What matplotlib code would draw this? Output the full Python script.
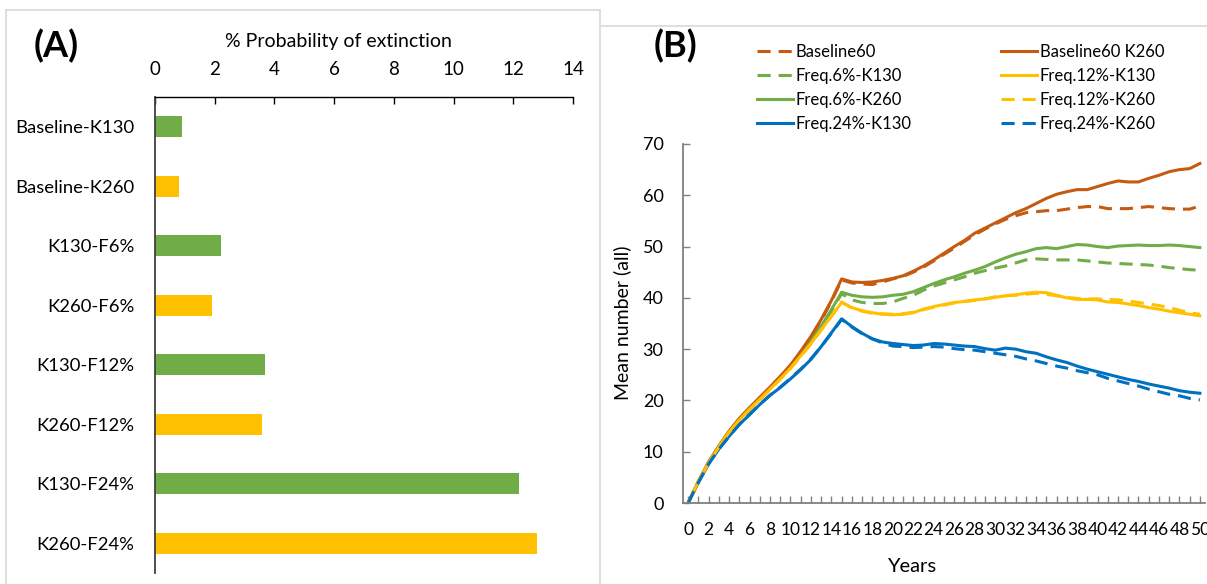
import matplotlib
matplotlib.use("Agg")
import matplotlib.pyplot as plt
from matplotlib.lines import Line2D
import numpy as np

plt.rcParams['font.family'] = ['Lato', 'DejaVu Sans']

# ---------------- Panel A data ----------------
categories = ["Baseline-K130", "Baseline-K260", "K130-F6%", "K260-F6%",
              "K130-F12%", "K260-F12%", "K130-F24%", "K260-F24%"]
extinction = [0.9, 0.8, 2.2, 1.9, 3.7, 3.6, 12.2, 12.8]
bar_colors = ["#70AD47", "#FFC000"] * 4
a_ticks = [0, 2, 4, 6, 8, 10, 12, 14]

# ---------------- Panel B data ----------------
years = list(range(0, 51))

baseline60 = [0, 4.2, 7.9, 11.0, 13.9, 16.4, 18.5, 20.5, 22.5, 24.6, 26.8, 29.4, 32.3, 35.6, 39.3, 43.5,
              42.9, 42.7, 42.6, 43.1, 43.7, 44.2, 45.0, 46.0, 47.2, 48.5, 49.7, 51.0, 52.3, 53.4, 54.4,
              55.3, 56.0, 56.6, 56.8, 57.0, 57.0, 57.3, 57.6, 57.8, 57.8, 57.4, 57.4, 57.4, 57.6, 57.8,
              57.6, 57.4, 57.3, 57.3, 57.9]
baseline60_k260 = [0, 4.2, 8.0, 11.1, 14.0, 16.5, 18.6, 20.6, 22.6, 24.7, 26.9, 29.6, 32.5, 35.8, 39.5, 43.7,
                   43.1, 43.0, 43.1, 43.4, 43.8, 44.3, 45.2, 46.2, 47.4, 48.7, 50.0, 51.2, 52.6, 53.6, 54.6,
                   55.6, 56.6, 57.4, 58.4, 59.4, 60.2, 60.7, 61.1, 61.1, 61.7, 62.3, 62.8, 62.6, 62.6, 63.3,
                   63.9, 64.6, 65.0, 65.2, 66.2]
f6_k130 = [0, 4.2, 7.9, 11.0, 13.8, 16.2, 18.3, 20.3, 22.3, 24.3, 26.4, 28.9, 31.5, 34.3, 37.5, 40.8,
           39.6, 39.1, 38.9, 38.9, 39.2, 39.9, 40.5, 41.5, 42.3, 42.9, 43.5, 44.1, 44.8, 45.3, 45.8,
           46.2, 46.8, 47.4, 47.6, 47.5, 47.4, 47.4, 47.4, 47.2, 47.0, 46.8, 46.7, 46.6, 46.5, 46.4,
           46.2, 45.9, 45.7, 45.5, 45.4]
f6_k260 = [0, 4.2, 7.9, 11.0, 13.9, 16.3, 18.4, 20.4, 22.4, 24.4, 26.5, 29.0, 31.6, 34.5, 37.7, 41.1,
           40.5, 40.2, 40.1, 40.2, 40.5, 40.7, 41.2, 42.0, 42.8, 43.5, 44.1, 44.8, 45.4, 46.1, 47.0,
           47.8, 48.5, 49.0, 49.6, 49.8, 49.6, 50.0, 50.4, 50.3, 50.0, 49.8, 50.1, 50.2, 50.3, 50.2,
           50.2, 50.3, 50.2, 50.0, 49.8]
f12_k130 = [0, 4.2, 7.8, 10.9, 13.8, 16.2, 18.3, 20.2, 22.2, 24.2, 26.3, 28.7, 31.1, 33.8, 36.4, 39.1,
            38.1, 37.5, 37.1, 36.8, 36.7, 36.8, 37.1, 37.8, 38.3, 38.7, 39.1, 39.3, 39.6, 39.8, 40.1,
            40.4, 40.6, 40.9, 41.1, 41.0, 40.5, 40.0, 39.7, 39.7, 39.6, 39.2, 39.1, 38.8, 38.5, 38.1,
            37.8, 37.4, 37.1, 36.8, 36.5]
f12_k260 = [0, 4.2, 7.8, 10.9, 13.7, 16.1, 18.2, 20.1, 22.1, 24.1, 26.2, 28.6, 31.0, 33.7, 36.4, 39.2,
            38.0, 37.4, 37.0, 36.9, 36.8, 36.9, 37.2, 37.7, 38.2, 38.6, 39.0, 39.3, 39.5, 39.8, 40.2,
            40.4, 40.5, 40.7, 40.9, 40.7, 40.4, 40.1, 39.9, 39.8, 39.8, 39.7, 39.6, 39.4, 39.1, 38.8,
            38.5, 38.1, 37.6, 37.1, 36.8]
f24_k130 = [0, 4.0, 7.6, 10.5, 13.0, 15.3, 17.2, 19.2, 21.0, 22.5, 24.2, 26.0, 28.0, 30.5, 33.2, 35.9,
            34.4, 33.1, 32.0, 31.4, 31.1, 30.9, 30.7, 30.8, 31.1, 31.0, 30.8, 30.6, 30.5, 30.1, 29.8,
            30.2, 30.0, 29.5, 29.2, 28.5, 27.9, 27.4, 26.7, 26.1, 25.6, 25.1, 24.6, 24.1, 23.7, 23.2,
            22.8, 22.4, 21.9, 21.6, 21.4]
f24_k260 = [0, 4.0, 7.6, 10.5, 13.0, 15.3, 17.3, 19.2, 21.0, 22.6, 24.3, 26.1, 28.1, 30.5, 33.1, 35.8,
            34.3, 33.0, 32.0, 31.2, 30.6, 30.5, 30.3, 30.4, 30.5, 30.4, 30.1, 29.9, 29.8, 29.5, 29.2,
            28.9, 28.6, 28.1, 27.7, 27.2, 26.7, 26.3, 25.8, 25.4, 25.0, 24.3, 23.8, 23.3, 22.8, 22.2,
            21.7, 21.2, 20.9, 20.4, 20.1]

ORANGE, GREEN, YELLOW, BLUE = "#C55A11", "#70AD47", "#FFC000", "#0070C0"
series = [
    ("Baseline60", baseline60, ORANGE, "--"),
    ("Freq.6%-K130", f6_k130, GREEN, "--"),
    ("Freq.6%-K260", f6_k260, GREEN, "-"),
    ("Freq.24%-K130", f24_k130, BLUE, "-"),
    ("Baseline60 K260", baseline60_k260, ORANGE, "-"),
    ("Freq.12%-K130", f12_k130, YELLOW, "-"),
    ("Freq.12%-K260", f12_k260, YELLOW, "--"),
    ("Freq.24%-K260", f24_k260, BLUE, "--"),
]

W, H = 1207, 584
fig = plt.figure(figsize=(W / 100, H / 100), dpi=100)

def fx(px):
    return px / W

def fy(py):
    return 1 - py / H

# panel frames
frame_col = "#D9D9D9"
fig.add_artist(Line2D([fx(6), fx(6)], [fy(10), 0], color=frame_col, lw=1.2))
fig.add_artist(Line2D([fx(6), fx(600)], [fy(10), fy(10)], color=frame_col, lw=1.2))
fig.add_artist(Line2D([fx(600), fx(600)], [fy(10), 0], color=frame_col, lw=1.2))
fig.add_artist(Line2D([fx(600), 1], [fy(26), fy(26)], color=frame_col, lw=1.2))

# ---------------- Panel A ----------------
axA = fig.add_axes([fx(155), fy(573), fx(573) - fx(155), fy(97) - fy(573)])
ypos = np.arange(len(categories))
axA.barh(ypos, extinction, height=0.35, color=bar_colors)
axA.set_ylim(len(categories) - 0.5, -0.5)
axA.set_xlim(0, 14)
axA.xaxis.tick_top()
axA.set_xticks(a_ticks)
axA.set_xticklabels([str(t) for t in a_ticks], fontsize=13.5)
axA.tick_params(axis="x", direction="in", length=5, width=1, pad=14, colors="#000000")
axA.set_yticks(ypos)
axA.set_yticklabels(categories, fontsize=13.3)
axA.tick_params(axis="y", length=0, pad=15)
for s in ["right", "bottom"]:
    axA.spines[s].set_visible(False)
axA.spines["left"].set_color("#404040")
axA.spines["left"].set_linewidth(1.3)
axA.spines["top"].set_color("#000000")
axA.spines["top"].set_linewidth(1.0)
fig.text(fx(338), fy(41), "% Probability of extinction", fontsize=14, ha="center", va="center")
fig.text(fx(34), fy(46), "(A)", fontsize=26, fontweight="bold", ha="left", va="center")

# ---------------- Panel B ----------------
axB = fig.add_axes([fx(683), fy(503), fx(1205) - fx(683), fy(144) - fy(503)])
handles = []
for name, vals, col, ls in series:
    if ls == "--":
        ln, = axB.plot(years, vals, color=col, lw=2.2, linestyle=(0, (4.3, 2.6)), label=name)
    else:
        ln, = axB.plot(years, vals, color=col, lw=2.2, label=name)
    handles.append(ln)
axB.set_xlim(-0.5, 50.5)
axB.set_ylim(0, 70)
axB.set_yticks(range(0, 71, 10))
axB.set_yticklabels([str(v) for v in range(0, 71, 10)], fontsize=13)
axB.set_xticks(years)
axB.set_xticklabels([str(y) if y % 2 == 0 else "" for y in years], fontsize=12.5)
axB.tick_params(axis="x", direction="in", length=5, width=1, color="#808080", pad=14)
axB.tick_params(axis="y", direction="in", length=5, width=1, color="#808080", pad=14)
for s in ["right", "top"]:
    axB.spines[s].set_visible(False)
for s in ["left", "bottom"]:
    axB.spines[s].set_color("#808080")
    axB.spines[s].set_linewidth(1.3)
fig.text(fx(622), fy(323), "Mean number (all)", fontsize=14, rotation=90, ha="center", va="center")
fig.text(fx(912), fy(567), "Years", fontsize=14.5, ha="center", va="center")
fig.text(fx(654), fy(46), "(B)", fontsize=26, fontweight="bold", ha="left", va="center")

fig.legend(handles=handles, labels=[s[0] for s in series], ncol=2,
           loc="upper left", bbox_to_anchor=(fx(757), fy(44)), frameon=False,
           fontsize=12, handlelength=2.15, handletextpad=0.15, columnspacing=5.4,
           labelspacing=0.47, borderaxespad=0, borderpad=0)

fig.savefig("out.png", dpi=100)
